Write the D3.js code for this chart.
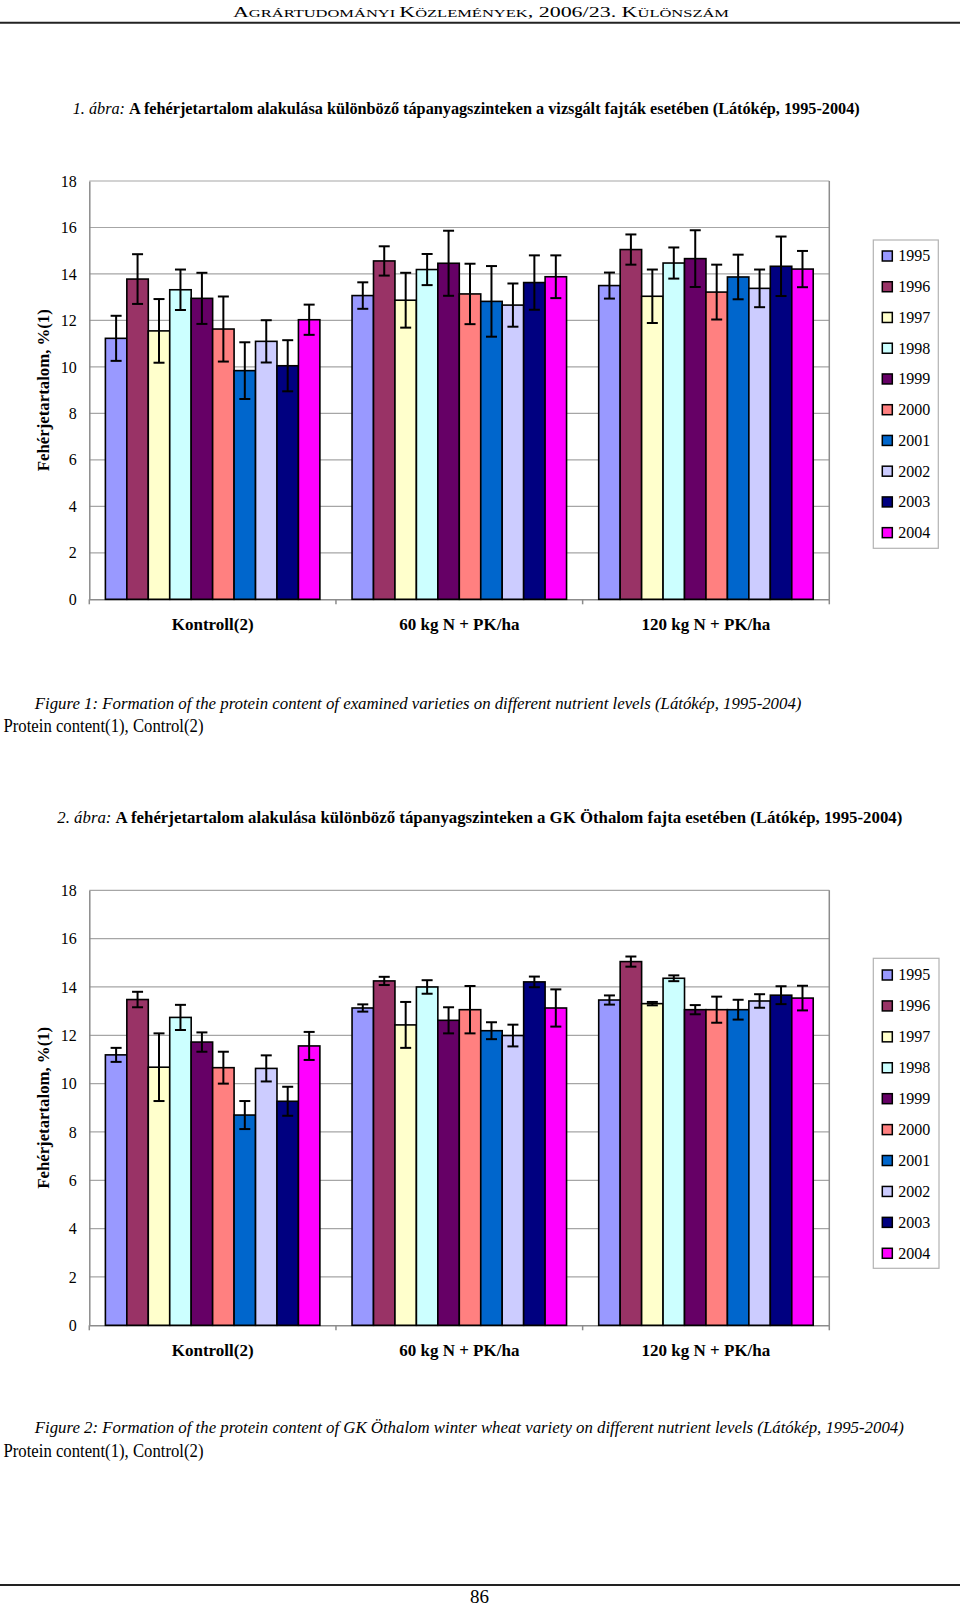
<!DOCTYPE html>
<html><head><meta charset="utf-8">
<script src="https://cdn.jsdelivr.net/npm/d3@7/dist/d3.min.js"></script>
<style>
body{margin:0;background:#fff;}
svg, svg text{font-family:'Liberation Serif','Times New Roman',Times,serif;}
</style></head><body>
<svg id="page" width="960" height="1605"></svg>
<script>
// ---------------- DATA ----------------
const categories = ["Kontroll(2)", "60 kg N + PK/ha", "120 kg N + PK/ha"];
const years = ["1995","1996","1997","1998","1999","2000","2001","2002","2003","2004"];
const colors = ["#9999FF","#993366","#FFFFCC","#CCFFFF","#660066","#FF8080","#0066CC","#CCCCFF","#000080","#FF00FF"];
const yTicks = [0,2,4,6,8,10,12,14,16,18];

// Figure 1 (means and error half-widths, per year)
const fig1Kontroll    = [11.23,13.78,11.55,13.32,12.95,11.63, 9.84,11.10,10.05,12.03];
const fig1KontrollErr = [ 0.97, 1.07, 1.37, 0.87, 1.10, 1.40, 1.22, 0.91, 1.10, 0.65];
const fig1N60         = [13.07,14.56,12.87,14.19,14.46,13.14,12.82,12.66,13.63,13.88];
const fig1N60Err      = [ 0.57, 0.63, 1.18, 0.67, 1.40, 1.30, 1.52, 0.93, 1.17, 0.92];
const fig1N120        = [13.50,15.05,13.04,14.47,14.66,13.22,13.87,13.38,14.33,14.21];
const fig1N120Err     = [ 0.56, 0.65, 1.15, 0.67, 1.22, 1.18, 0.96, 0.81, 1.28, 0.78];

// Figure 2
const fig2Kontroll    = [11.19,13.48,10.68,12.74,11.72,10.66, 8.70,10.63, 9.27,11.56];
const fig2KontrollErr = [ 0.29, 0.32, 1.40, 0.52, 0.40, 0.66, 0.58, 0.54, 0.60, 0.58];
const fig2N60         = [13.13,14.25,12.43,14.00,12.62,13.06,12.19,11.99,14.21,13.13];
const fig2N60Err      = [ 0.15, 0.17, 0.95, 0.28, 0.54, 0.98, 0.35, 0.45, 0.22, 0.77];
const fig2N120        = [13.46,15.05,13.31,14.36,13.06,13.06,13.06,13.42,13.66,13.54];
const fig2N120Err     = [ 0.19, 0.21, 0.07, 0.12, 0.19, 0.54, 0.41, 0.28, 0.37, 0.51];

const yAxisTitle = "Fehérjetartalom, %(1)";

// ---------------- DRAW ----------------
const FONT = "'Liberation Serif','Times New Roman',Times,serif";
const svg = d3.select("#page");
svg.append("rect").attr("width",960).attr("height",1605).attr("fill","#fff");

function txt(x, y, size, opts={}) {
  const t = svg.append("text").attr("x",x).attr("y",y)
    .attr("font-family",FONT).attr("font-size",size).attr("fill","#000");
  if (opts.anchor) t.attr("text-anchor",opts.anchor);
  if (opts.len) t.attr("textLength",opts.len).attr("lengthAdjust","spacingAndGlyphs");
  if (opts.italic) t.attr("font-style","italic");
  if (opts.bold) t.attr("font-weight","bold");
  return t;
}

// Header (small caps)
{
  const t = txt(233, 16.5, 14, {len:496});
  const parts = [["A",14],["GRÁRTUDOMÁNYI ",10.5],["K",14],["ÖZLEMÉNYEK",10.5],[", 2006/23. ",14],["K",14],["ÜLÖNSZÁM",10.5]];
  parts.forEach(p => t.append("tspan").attr("font-size",p[1]).text(p[0]));
  svg.append("line").attr("x1",0).attr("x2",960).attr("y1",22.7).attr("y2",22.7)
    .attr("stroke","#222").attr("stroke-width",2);
}

// Titles
{
  const t = txt(72.7, 114, 16, {len:787});
  t.append("tspan").attr("font-style","italic").text("1. ábra: ");
  t.append("tspan").attr("font-weight","bold").text("A fehérjetartalom alakulása különböző tápanyagszinteken a vizsgált fajták esetében (Látókép, 1995-2004)");
}
{
  const t = txt(57.3, 823, 16, {len:845});
  t.append("tspan").attr("font-style","italic").text("2. ábra: ");
  t.append("tspan").attr("font-weight","bold").text("A fehérjetartalom alakulása különböző tápanyagszinteken a GK Öthalom fajta esetében (Látókép, 1995-2004)");
}

// Captions
txt(34.8, 708.7, 16, {italic:true, len:766.6}).text("Figure 1: Formation of the protein content of examined varieties on different nutrient levels (Látókép, 1995-2004)");
txt(3.5, 731.5, 18, {len:200}).text("Protein content(1), Control(2)");
txt(34.8, 1433.3, 16, {italic:true, len:869}).text("Figure 2: Formation of the protein content of GK Öthalom winter wheat variety on different nutrient levels (Látókép, 1995-2004)");
txt(3.5, 1457.3, 18, {len:200}).text("Protein content(1), Control(2)");

// Footer
svg.append("line").attr("x1",0).attr("x2",960).attr("y1",1585).attr("y2",1585)
  .attr("stroke","#222").attr("stroke-width",2);
txt(479.5, 1602.5, 19, {anchor:"middle", len:19}).text("86");

function drawChart(cfg) {
  const g = svg.append("g").attr("font-family",FONT);
  const x0 = d3.scaleBand().domain(categories).range([cfg.left, cfg.right]).padding(0);
  const x1 = d3.scaleBand().domain(years).range([0, x0.bandwidth()]).paddingInner(0).paddingOuter(0.75);
  const y = d3.scaleLinear().domain([0,18]).range([cfg.bottom, cfg.top]);

  // gridlines
  g.append("g").selectAll("line").data(yTicks.filter(d=>d>0)).join("line")
    .attr("x1",cfg.left).attr("x2",cfg.right)
    .attr("y1",d=>y(d)).attr("y2",d=>y(d))
    .attr("stroke","#a6a6a6").attr("stroke-width",1.2);
  // right border
  g.append("line").attr("x1",cfg.right).attr("x2",cfg.right).attr("y1",cfg.top).attr("y2",cfg.bottom)
    .attr("stroke","#8c8c8c").attr("stroke-width",1.5);

  // y axis
  const ya = g.append("g").attr("transform",`translate(${cfg.left},0)`)
    .call(d3.axisLeft(y).tickValues(yTicks).tickSize(0).tickPadding(12.6).tickFormat(d3.format("d")));
  ya.attr("font-family",FONT).attr("font-size",16);
  ya.select(".domain").attr("stroke","#8c8c8c").attr("stroke-width",1.5);
  ya.selectAll("text").attr("font-size",16).attr("font-family",FONT).attr("fill","#000");

  // x axis
  const xa = g.append("g").attr("transform",`translate(0,${cfg.bottom})`)
    .call(d3.axisBottom(x0).tickSize(0).tickFormat(""));
  xa.select(".domain").attr("stroke","#8c8c8c").attr("stroke-width",1.5);
  xa.selectAll(".tick").remove();
  const bounds = categories.map(c=>x0(c)).concat([x0(categories[categories.length-1])+x0.bandwidth()]);
  g.append("g").selectAll("line").data(bounds).join("line")
    .attr("x1",d=>d).attr("x2",d=>d).attr("y1",cfg.bottom).attr("y2",cfg.bottom+5)
    .attr("stroke","#8c8c8c").attr("stroke-width",1.5);

  // category labels
  g.append("g").selectAll("text").data(categories).join("text")
    .attr("x",c=>x0(c)+x0.bandwidth()/2).attr("y",cfg.bottom+30.7)
    .attr("text-anchor","middle").attr("font-weight","bold").attr("font-size",17)
    .attr("font-family",FONT)
    .text(c=>c);

  // bars
  const rows = [];
  cfg.means.forEach((arr,ci)=>arr.forEach((v,yi)=>rows.push({cat:categories[ci], year:years[yi], yi, v, e:cfg.errs[ci][yi]})));
  g.append("g").selectAll("rect").data(rows).join("rect")
    .attr("x",d=>x0(d.cat)+x1(d.year)).attr("width",x1.bandwidth())
    .attr("y",d=>y(d.v)).attr("height",d=>y(0)-y(d.v))
    .attr("fill",d=>colors[d.yi]).attr("stroke","#000").attr("stroke-width",1.6);

  // error bars
  const eb = g.append("g").attr("stroke","#000").attr("stroke-width",2);
  rows.forEach(d=>{
    const cx = x0(d.cat)+x1(d.year)+x1.bandwidth()/2;
    eb.append("line").attr("x1",cx).attr("x2",cx).attr("y1",y(d.v+d.e)).attr("y2",y(d.v-d.e));
    eb.append("line").attr("x1",cx-5.5).attr("x2",cx+5.5).attr("y1",y(d.v+d.e)).attr("y2",y(d.v+d.e));
    eb.append("line").attr("x1",cx-5.5).attr("x2",cx+5.5).attr("y1",y(d.v-d.e)).attr("y2",y(d.v-d.e));
  });

  // y title
  g.append("text").attr("transform",`translate(48.5,${(cfg.top+cfg.bottom)/2}) rotate(-90)`)
    .attr("text-anchor","middle").attr("font-weight","bold").attr("font-size",16.5)
    .attr("font-family",FONT)
    .attr("textLength",162).attr("lengthAdjust","spacingAndGlyphs")
    .text(yAxisTitle);

  // legend
  const L = cfg.legend;
  g.append("rect").attr("x",L.x).attr("y",L.y).attr("width",L.w).attr("height",L.h)
    .attr("fill","#fff").attr("stroke","#b3b3b3").attr("stroke-width",1.2);
  const li = g.append("g").selectAll("g").data(years).join("g")
    .attr("transform",(d,i)=>`translate(0,${L.first + i*L.step})`);
  li.append("rect").attr("x",L.x+9).attr("y",-5).attr("width",10).attr("height",10)
    .attr("fill",(d,i)=>colors[i]).attr("stroke","#000").attr("stroke-width",1.5);
  li.append("text").attr("x",L.x+25).attr("y",0).attr("dy","0.34em")
    .attr("font-family",FONT).attr("font-size",16).text(d=>d);
}

drawChart({
  left:89.3, right:829.3, top:181, bottom:599.3,
  means:[fig1Kontroll, fig1N60, fig1N120],
  errs:[fig1KontrollErr, fig1N60Err, fig1N120Err],
  legend:{x:873.3, y:240, w:65, h:308.3, first:256, step:30.74}
});
drawChart({
  left:89.3, right:829.3, top:890.3, bottom:1325.3,
  means:[fig2Kontroll, fig2N60, fig2N120],
  errs:[fig2KontrollErr, fig2N60Err, fig2N120Err],
  legend:{x:873.3, y:958.3, w:65.7, h:310, first:975, step:30.92}
});
</script>
</body></html>
